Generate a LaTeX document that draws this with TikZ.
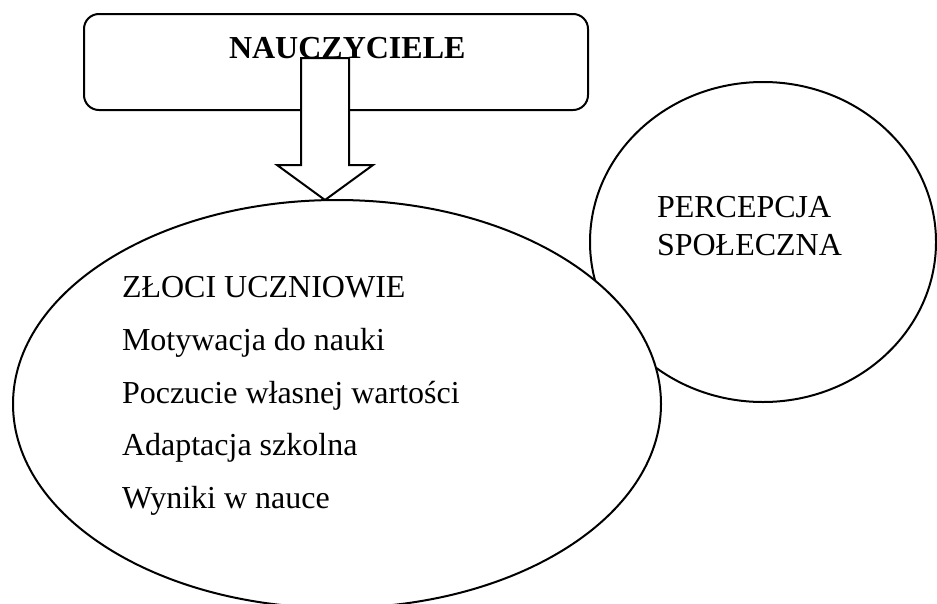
\documentclass[tikz,border=0pt]{standalone}
\usepackage{fontspec}
\setmainfont{Liberation Serif}
\usetikzlibrary{shapes.geometric}
\begin{document}
\begin{tikzpicture}[x=0.375pt,y=-0.375pt,line width=0.75pt]
		\tikzset{opis/.style = {anchor=base west,inner sep=0pt,font=\fontsize{12}{14}\selectfont}}
		\tikzset{blob/.style = {shape=ellipse,draw,fill=white,inner sep=0pt}}
		\useasboundingbox (0,0) rectangle (937,603);
		\node[draw,rounded corners=5.6pt,minimum width=189pt,minimum height=36pt] (box) at (336,62) {};
		\node[opis,font=\fontsize{12}{14}\selectfont\bfseries] (nauczyciele) at (228,58) {NAUCZYCIELE};
		\draw[fill=white] (301,58) -- (301,165) -- (277,165) -- (325,200) -- (373,165) -- (349,165) -- (349,58) -- cycle;
		\node[blob,minimum width=129.75pt,minimum height=120pt] (percepcja) at (763,242) {};
		\node[blob,minimum width=243pt,minimum height=153pt] (uczniowie) at (337,404) {};
		\node[opis] (p1) at (656,217) {PERCEPCJA};
		\node[opis] (p2) at (656,255) {SPOŁECZNA};
		\node[opis] (u1) at (121,297) {ZŁOCI UCZNIOWIE};
		\node[opis] (u2) at (121,350) {Motywacja do nauki};
		\node[opis] (u3) at (121,403) {Poczucie własnej wartości};
		\node[opis] (u4) at (121,455) {Adaptacja szkolna};
		\node[opis] (u5) at (121,508) {Wyniki w nauce};
	\end{tikzpicture}
\end{document}
